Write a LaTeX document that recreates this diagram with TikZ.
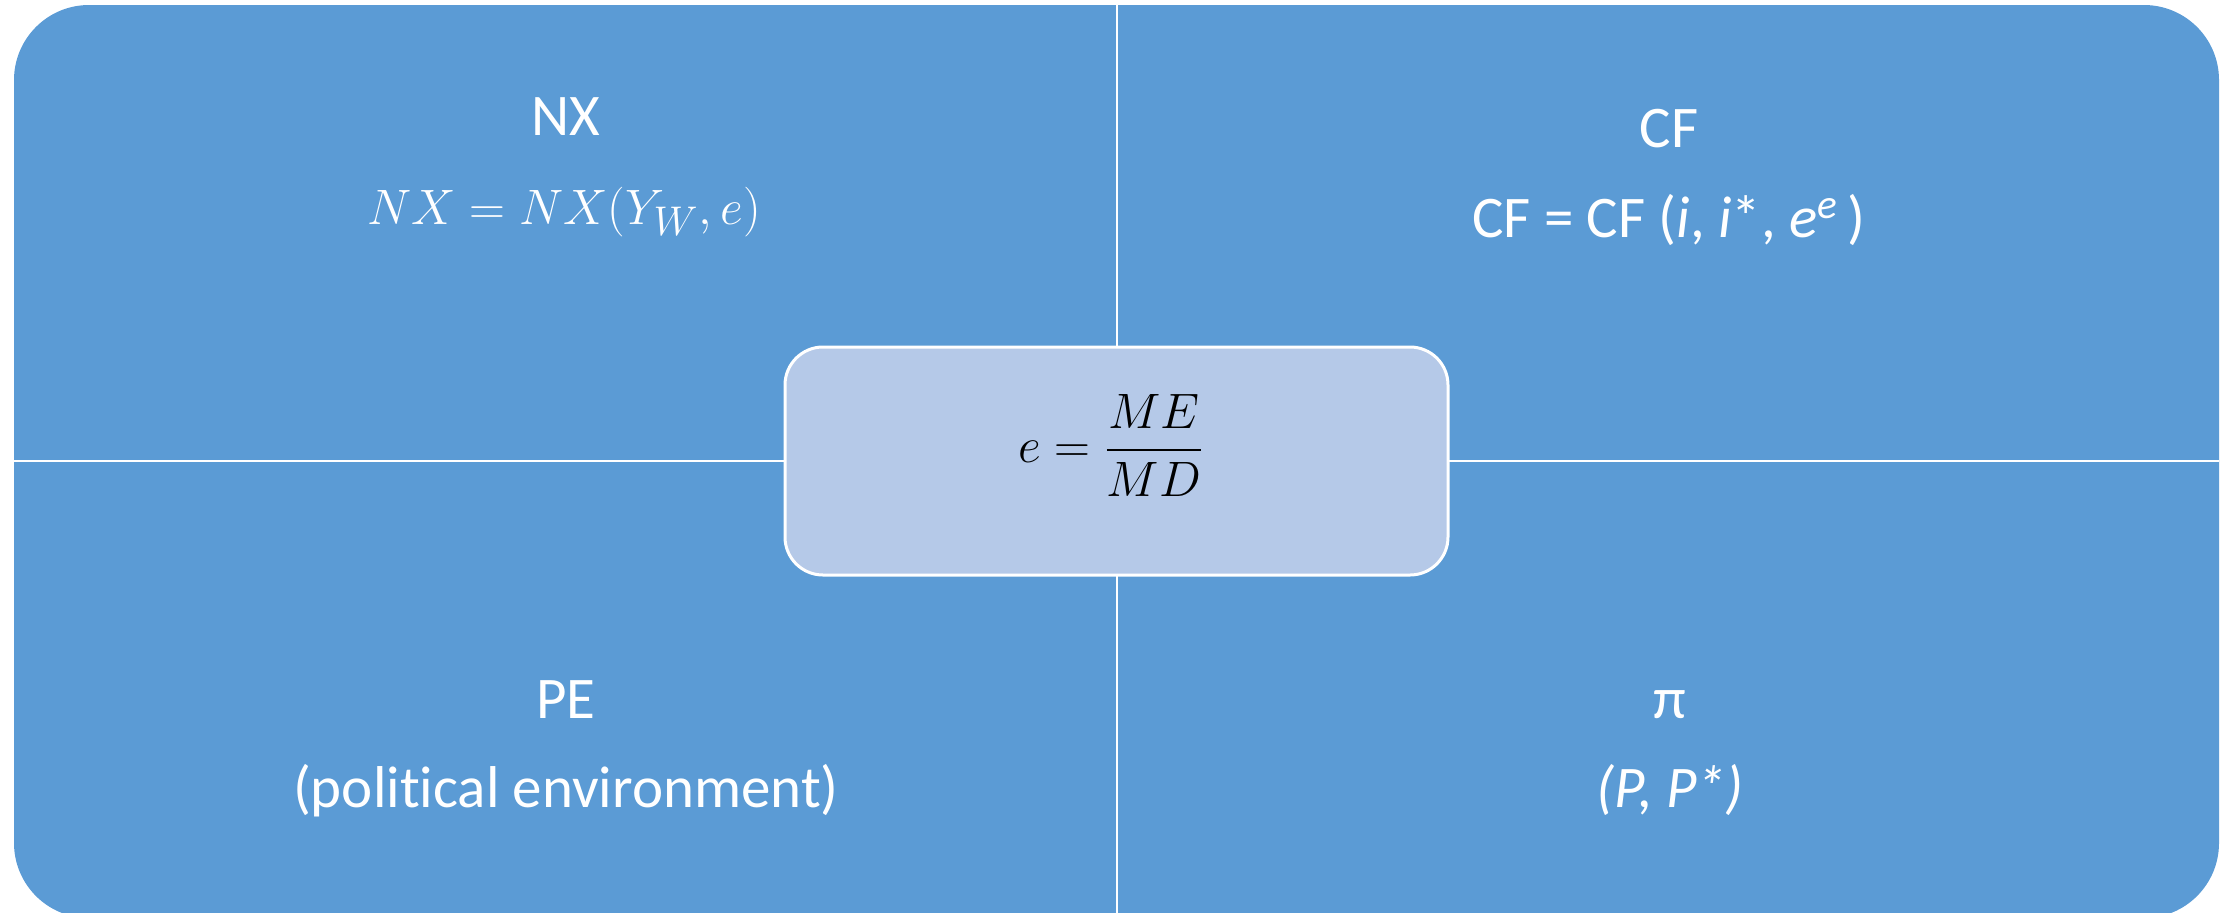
\documentclass[tikz,border=0pt]{standalone}
\usepackage{fontspec}
\setmainfont{Carlito}[Ligatures=NoCommon]
\usepackage{amsmath}
\usepackage{xcolor}

\definecolor{quadblue}{RGB}{91,155,213}
\definecolor{centreblue}{RGB}{181,201,232}

\tikzset{
  quadlabel/.style={text=white, anchor=base, inner sep=0.75pt, font=\fontsize{29.5}{36}\selectfont},
  quadmath/.style={text=white, anchor=base, inner sep=0.75pt, font=\fontsize{31}{36}\selectfont},
  sepline/.style={draw=white, line width=1.25pt},
}

\begin{document}
\begin{tikzpicture}[x=0.5pt,y=-0.5pt]
\path[use as bounding box, clip] (0,0) rectangle (2233,912);
%Shape: Rounded Rectangle (outer matrix)
\fill[quadblue, rounded corners=37.5pt] (14,5) rectangle (2219,918);
%Separators
\coordinate (topmid) at (1117,5);
\coordinate (botmid) at (1117,918);
\coordinate (leftmid) at (14,461);
\coordinate (rightmid) at (2219,461);
\draw[sepline] (topmid) -- (botmid);
\draw[sepline] (leftmid) -- (rightmid);
%Shape: Rounded Rectangle (centre)
\node[draw=white, line width=1.5pt, fill=centreblue, rounded corners=19pt,
      minimum width=331.5pt, minimum height=114pt, inner sep=0pt] (centre) at (1116.5,461) {};
% Text Node
\node[anchor=base, inner sep=0.75pt, font=\fontsize{30}{36}\selectfont] (ratio) at (1111,462)
  {$e=\dfrac{ME}{MD}$};

% Text Node
\node[quadlabel] (nx) at (566,135) {NX};
% Text Node
\node[quadmath] (nxfun) at (564,224) {$NX=NX(Y_W,e)$};
% Text Node
\node[quadlabel] (cf) at (1669,147) {CF};
% Text Node
\node[quadlabel] (cffun) at (1669,237) {CF = CF (\textit{i}, \textit{i}*, \textit{e}\textsuperscript{\textit{e}}\,)};
% Text Node
\node[quadlabel] (pe) at (566,718) {PE};
% Text Node
\node[quadlabel] (pedesc) at (566,807) {(political environment)};
% Text Node
\node[quadlabel] (pi) at (1670,718) {π};
% Text Node
\node[quadlabel] (pidesc) at (1670,807) {\textit{(P, P*)}};
\end{tikzpicture}
\end{document}
